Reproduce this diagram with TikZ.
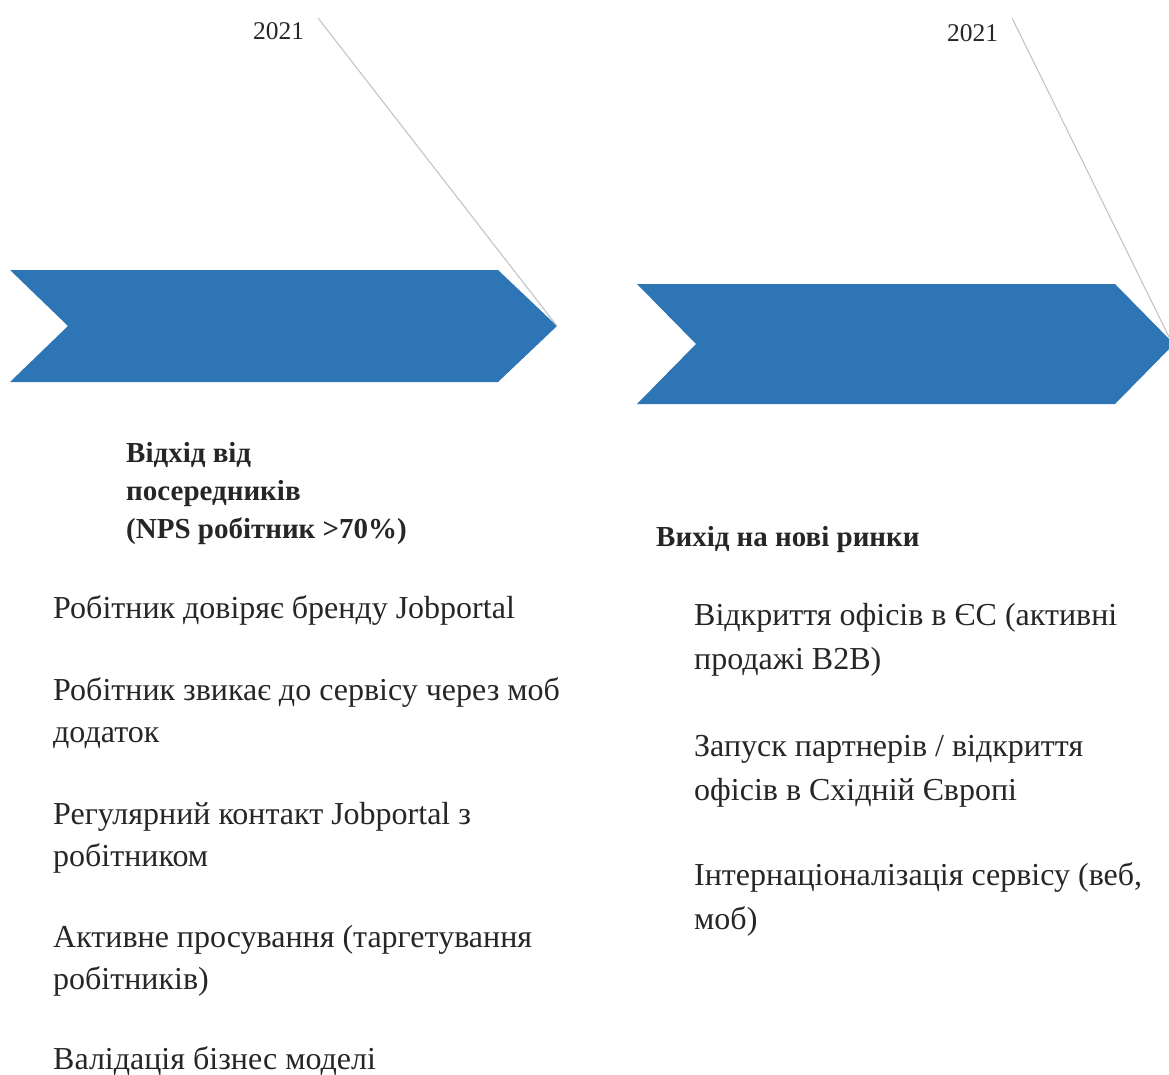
\documentclass[tikz,border=0pt]{standalone}
\usepackage{fontspec}
\setmainfont{Liberation Serif}
\definecolor{chev}{HTML}{2E75B6}
\definecolor{txt}{HTML}{262626}
\definecolor{leader}{HTML}{C4C4C4}
\begin{document}
\begin{tikzpicture}[x=1pt,y=-1pt,
  chevron/.style={fill=chev,draw=none},
  leaderline/.style={draw=leader,line width=1.1pt},
  year/.style={anchor=base west,inner sep=0pt,text=txt,font=\fontsize{25.5}{30}\selectfont},
  head/.style={anchor=base west,inner sep=0pt,text=txt,align=left,font=\bfseries\fontsize{29}{38}\selectfont},
  item/.style={anchor=base west,inner sep=0pt,text=txt,align=left,font=\fontsize{32}{42}\selectfont},
  itemr/.style={anchor=base west,inner sep=0pt,text=txt,align=left,font=\fontsize{32}{44}\selectfont}]
\useasboundingbox (0,0) rectangle (1169,1075);
\clip (0,0) rectangle (1169,1075);
% chevrons
\fill[chevron] (10,270) -- (498,270) -- (557,326) -- (498,382) -- (10,382) -- (68,326) -- cycle;
\fill[chevron] (637,284) -- (1115,284) -- (1174,344) -- (1115,404) -- (637,404) -- (696,344) -- cycle;
\coordinate (tip1) at (557,326);
\coordinate (tip2) at (1172,343);
\coordinate (lead1) at (318,18);
\coordinate (lead2) at (1012,18);
\draw[leaderline] (lead1) -- (tip1);
\draw[leaderline] (lead2) -- (tip2);
% years (anchor: baseline)
\node[year] (y1) at (253,40) {2021};
\node[year] (y2) at (947,42) {2021};
% left column (multi-line nodes anchored at the baseline of their last line)
\node[head] (h1) at (126,538) {Відхід від\\посередників\\(NPS робітник >70\%)};
\node[item] (a1) at (53,618) {Робітник довіряє бренду Jobportal};
\node[item] (a2) at (53,742) {Робітник звикає до сервісу через моб\\додаток};
\node[item] (a3) at (53,866) {Регулярний контакт Jobportal з\\робітником};
\node[item] (a4) at (53,989) {Активне просування (таргетування\\робітників)};
\node[item] (a5) at (53,1069) {Валідація бізнес моделі};
% right column
\node[head] (h2) at (656,546) {Вихід на нові ринки};
\node[itemr] (b1) at (694,669) {Відкриття офісів в ЄС (активні\\продажі B2B)};
\node[itemr] (b2) at (694,800) {Запуск партнерів / відкриття\\офісів в Східній Європі};
\node[itemr] (b3) at (694,929) {Інтернаціоналізація сервісу (веб,\\моб)};
\end{tikzpicture}
\end{document}
